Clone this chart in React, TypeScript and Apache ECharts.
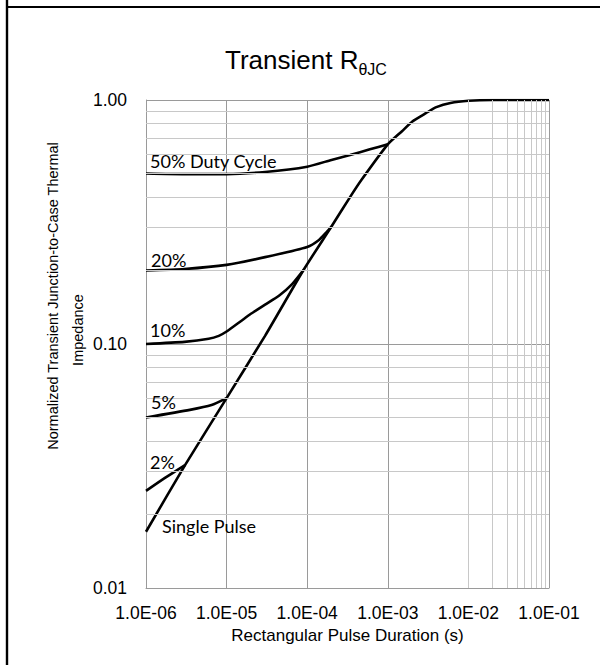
import React, { useEffect, useRef } from 'react';
import * as echarts from 'echarts';

const X_TICK_LABELS = ['1.0E-06', '1.0E-05', '1.0E-04', '1.0E-03', '1.0E-02', '1.0E-01'];
const Y_TICK_LABELS = ['0.01', '0.10', '1.00'];
const X_DECADES = [1e-6, 1e-5, 1e-4, 1e-3, 1e-2];
const Y_DECADES = [0.01, 0.1];
const MINOR_STEPS = [2, 3, 4, 5, 6, 7, 8, 9];

const CURVE_NAMES = ['Single Pulse', '2%', '5%', '10%', '20%', '50% Duty Cycle'];

const singlePulseX = [1e-6, 3.05e-6, 1e-5, 3e-5, 9e-5, 2e-4, 3.4e-4, 4.7e-4, 1e-3, 1.5e-3, 2e-3, 3e-3, 4e-3, 6e-3, 1e-2, 2e-2, 1e-1];
const singlePulseY = [0.017, 0.0319, 0.06, 0.108, 0.201, 0.303, 0.4, 0.47, 0.658, 0.745, 0.815, 0.885, 0.935, 0.973, 0.993, 1.0, 1.0];

const duty2X = [1e-6, 1.7e-6, 3.05e-6];
const duty2Y = [0.025, 0.0282, 0.0319];

const duty5X = [1e-6, 3.5e-6, 6.5e-6, 1e-5];
const duty5Y = [0.05, 0.0537, 0.0562, 0.06];

const duty10X = [1e-6, 3e-6, 6e-6, 8e-6, 1e-5, 1.5e-5, 2e-5, 3e-5, 4.5e-5, 6.5e-5, 9e-5];
const duty10Y = [0.1, 0.102, 0.105, 0.108, 0.1125, 0.124, 0.133, 0.145, 0.158, 0.176, 0.201];

const duty20X = [1e-6, 3e-6, 1e-5, 3e-5, 1e-4, 1.4e-4, 1.75e-4, 2e-4];
const duty20Y = [0.2, 0.203, 0.211, 0.227, 0.25, 0.267, 0.288, 0.303];

const duty50X = [1e-6, 3e-6, 1e-5, 3e-5, 1e-4, 2e-4, 3.4e-4, 6e-4, 1e-3];
const duty50Y = [0.5, 0.497, 0.497, 0.507, 0.533, 0.568, 0.595, 0.628, 0.658];

const zip = (xs: number[], ys: number[]) => xs.map((x, i) => [x, ys[i]]);

const App = () => {
  const ref = useRef<HTMLDivElement>(null);
  useEffect(() => {
    if (!ref.current) return;
    const chart = echarts.init(ref.current, null, { renderer: 'svg' });
    const xMinor = X_DECADES.flatMap((d) => MINOR_STEPS.map((s) => Number((s * d).toPrecision(3))));
    const yMinor = Y_DECADES.flatMap((d) => MINOR_STEPS.map((s) => Number((s * d).toPrecision(3))));
    const tickFont = 'Liberation Sans, Arial, sans-serif';
    const annFont = 'Lato, Noto Sans, sans-serif';

    const curves = [
      zip(singlePulseX, singlePulseY),
      zip(duty2X, duty2Y),
      zip(duty5X, duty5Y),
      zip(duty10X, duty10Y),
      zip(duty20X, duty20Y),
      zip(duty50X, duty50Y),
    ];

    const annotations = [
      { text: CURVE_NAMES[5], x: 150, y: 161 },
      { text: CURVE_NAMES[4], x: 151, y: 260 },
      { text: CURVE_NAMES[3], x: 150, y: 330 },
      { text: CURVE_NAMES[2], x: 151, y: 402 },
      { text: CURVE_NAMES[1], x: 150, y: 462 },
      { text: CURVE_NAMES[0], x: 162, y: 526 },
    ];

    chart.setOption({
      animation: false,
      backgroundColor: '#ffffff',
      grid: { left: 146, right: 51, top: 100, bottom: 77, containLabel: false },
      xAxis: {
        type: 'log',
        logBase: 10,
        min: 1e-6,
        max: 0.1,
        name: 'Rectangular Pulse Duration (s)',
        nameLocation: 'middle',
        nameGap: 38,
        nameTextStyle: { fontFamily: tickFont, fontSize: 17, color: '#000' },
        axisLine: { show: true, lineStyle: { color: '#9a9a9a', width: 1 } },
        axisTick: { show: false },
        splitLine: { show: true, lineStyle: { color: '#9a9a9a', width: 1 } },
        axisLabel: {
          fontFamily: tickFont,
          fontSize: 17.5,
          color: '#000',
          margin: 16,
          formatter: (v: number) => X_TICK_LABELS[Math.round(Math.log10(v)) + 6] ?? '',
        },
      },
      yAxis: {
        type: 'log',
        logBase: 10,
        min: 0.01,
        max: 1,
        axisLine: { show: true, lineStyle: { color: '#9a9a9a', width: 1 } },
        axisTick: { show: false },
        splitLine: { show: true, lineStyle: { color: '#9a9a9a', width: 1 } },
        axisLabel: {
          fontFamily: tickFont,
          fontSize: 17.5,
          color: '#000',
          margin: 19,
          formatter: (v: number) => Y_TICK_LABELS[Math.round(Math.log10(v)) + 2] ?? '',
        },
      },
      series: [
        {
          type: 'line',
          data: [[1e-6, 0.01]],
          symbol: 'none',
          lineStyle: { width: 0 },
          silent: true,
          z: 1,
          markLine: {
            silent: true,
            symbol: ['none', 'none'],
            label: { show: false },
            lineStyle: { color: '#c8c8c8', width: 1, type: 'solid' },
            emphasis: { disabled: true },
            data: [...xMinor.map((v) => ({ xAxis: v })), ...yMinor.map((v) => ({ yAxis: v }))],
          },
        },
        ...curves.map((d, i) => ({
          type: 'line',
          name: CURVE_NAMES[i],
          data: d,
          symbol: 'none',
          smooth: 0.2,
          silent: true,
          z: 3,
          lineStyle: { color: '#000', width: 2.6 },
        })),
      ],
      graphic: [
        { type: 'line', shape: { x1: 7, y1: 0, x2: 7, y2: 665 }, style: { stroke: '#000', lineWidth: 2.4 }, silent: true },
        { type: 'line', shape: { x1: 7, y1: 7, x2: 600, y2: 7 }, style: { stroke: '#000', lineWidth: 2.2 }, silent: true },
        {
          type: 'text',
          x: 225,
          y: 47,
          silent: true,
          style: {
            text: '{a|Transient R}{b|θJC}',
            rich: {
              a: { fontSize: 26, fontFamily: 'Liberation Sans Narrow, Arial Narrow, sans-serif', fill: '#000', verticalAlign: 'bottom', padding: [0, 0, 4, 0] },
              b: { fontSize: 16, fontFamily: 'Liberation Sans Narrow, Arial Narrow, sans-serif', fill: '#000', verticalAlign: 'bottom' },
            },
          },
        },
        {
          type: 'text',
          x: 53,
          y: 296,
          rotation: Math.PI / 2,
          silent: true,
          style: {
            text: 'Normalized Transient Junction-to-Case Thermal',
            fontFamily: tickFont,
            fontSize: 14.5,
            fill: '#000',
            align: 'center',
            verticalAlign: 'middle',
          },
        },
        {
          type: 'text',
          x: 78,
          y: 330,
          rotation: Math.PI / 2,
          silent: true,
          style: {
            text: 'Impedance',
            fontFamily: tickFont,
            fontSize: 14.5,
            fill: '#000',
            align: 'center',
            verticalAlign: 'middle',
          },
        },
        ...annotations.map((a) => ({
          type: 'text',
          x: a.x,
          y: a.y,
          silent: true,
          z: 10,
          style: {
            text: a.text,
            fontFamily: annFont,
            fontSize: 18,
            fill: '#000',
            align: 'left',
            verticalAlign: 'middle',
          },
        })),
      ],
    });
    return () => chart.dispose();
  }, []);
  return <div ref={ref} style={{ position: 'fixed', left: 0, top: 0, width: 600, height: 665 }} />;
};

export default App;
